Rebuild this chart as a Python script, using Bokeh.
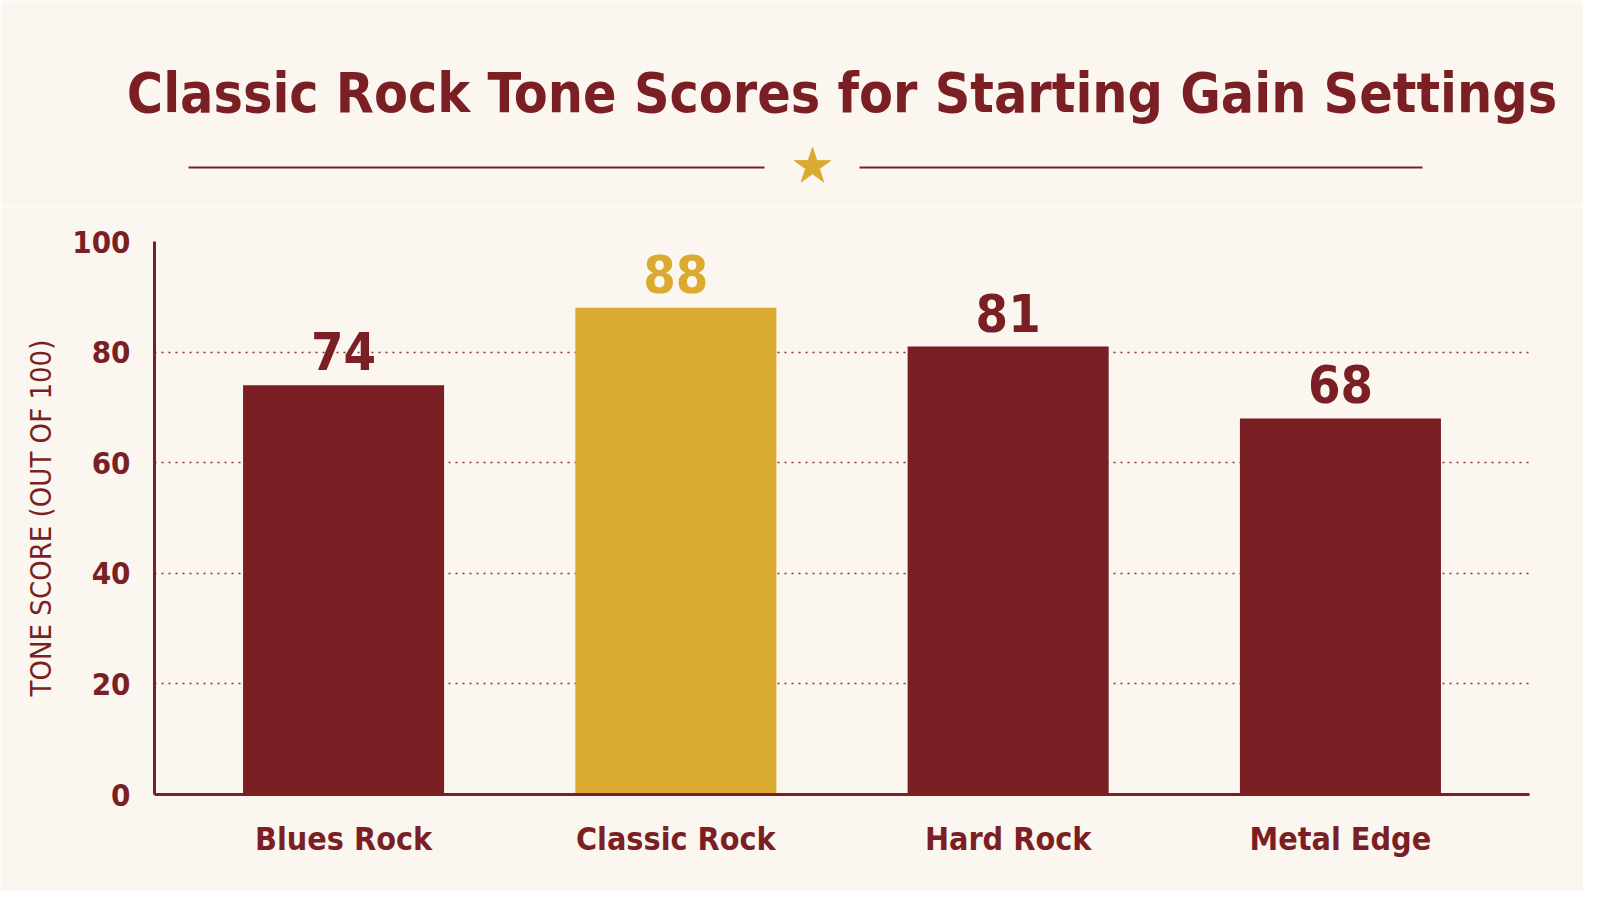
from bokeh.plotting import figure
from bokeh.models import Range1d, FactorRange, FixedTicker, ColumnDataSource
from bokeh.layouts import column
from bokeh.core.properties import value
from bokeh.embed import file_html
from bokeh.resources import INLINE

# ---- data ----
categories = ["Blues Rock", "Classic Rock", "Hard Rock", "Metal Edge"]
scores = [74, 88, 81, 68]
highlight = "Classic Rock"
y_ticks = [0, 20, 40, 60, 80, 100]
title_text = "Classic Rock Tone Scores for Starting Gain Settings"
y_label = "TONE SCORE (OUT OF 100)"

# ---- style ----
BG = "#FBF6EF"
RED = "#7A1F24"
GOLD = "#DAAB30"
FONT = "DejaVu Sans Condensed, Roboto Condensed, Liberation Sans Narrow, Roboto"
W = 1583
BL, BR = 154, 54   # frame borders shared by both figures

bar_colors = [GOLD if c == highlight else RED for c in categories]
src = ColumnDataSource(dict(cat=categories, score=scores, color=bar_colors,
                            label=[str(s) for s in scores]))

# ---- header (title + ornament) ----
H_HEAD = 207
HF_TOP = 137
head = figure(width=W, height=H_HEAD, x_range=Range1d(BL, W - BR),
              y_range=Range1d(H_HEAD, HF_TOP),
              output_backend="svg", toolbar_location=None,
              min_border_left=BL, min_border_right=BR, min_border_top=HF_TOP,
              min_border_bottom=0)
head.axis.visible = False
head.grid.visible = False
head.outline_line_color = None
head.background_fill_color = BG
head.border_fill_color = BG
head.title.text = title_text
head.title.align = "center"
head.title.text_font = FONT
head.title.text_font_style = "bold"
head.title.text_font_size = "55px"
head.title.text_color = RED
head.title.standoff = 26
head.segment(x0=[188, 859], y0=[167, 167], x1=[764, 1422], y1=[167, 167],
             line_color=RED, line_width=2)
head.scatter(x=[812], y=[166], marker="star", size=38, fill_color=GOLD, line_color=GOLD)

# ---- main chart ----
p = figure(width=W, height=684, x_range=FactorRange(*categories, range_padding=0.0345),
           y_range=Range1d(0, 100), output_backend="svg", toolbar_location=None,
           min_border_top=34, min_border_left=BL, min_border_right=BR, min_border_bottom=97)
p.background_fill_color = BG
p.border_fill_color = BG
p.outline_line_color = None

p.vbar(x="cat", top="score", width=0.605, fill_color="color", line_color=None, source=src)
p.text(x="cat", y="score", text="label", source=src, text_color="color",
       text_font=value(FONT), text_font_style="bold", text_font_size="52px",
       text_align="center", text_baseline="middle", y_offset=-34)

p.xgrid.grid_line_color = None
p.ygrid.ticker = FixedTicker(ticks=y_ticks)
p.ygrid.grid_line_color = RED
p.ygrid.grid_line_alpha = 0.9
p.ygrid.grid_line_width = 1.6
p.ygrid.grid_line_dash = "2 5"

p.yaxis.ticker = FixedTicker(ticks=y_ticks)
for ax in (p.xaxis[0], p.yaxis[0]):
    ax.axis_line_color = RED
    ax.axis_line_width = 3
    ax.major_tick_line_color = None
    ax.minor_tick_line_color = None
    ax.major_label_text_color = RED
    ax.major_label_text_font = FONT
    ax.major_label_text_font_style = "bold"

p.yaxis.major_label_text_font_size = "31px"
p.yaxis.major_label_standoff = 18
p.yaxis.axis_label = y_label
p.yaxis.axis_label_text_font = FONT
p.yaxis.axis_label_text_font_style = "normal"
p.yaxis.axis_label_text_font_size = "29px"
p.yaxis.axis_label_text_color = RED
p.yaxis.axis_label_standoff = 11

p.xaxis.major_label_text_font_size = "32px"
p.xaxis.major_label_standoff = 19

layout = column(head, p, spacing=0)
html = file_html(layout, INLINE)
html = html.replace("<body>", '<body style="background-color:%s;">' % BG, 1)
open("out.html", "w").write(html)
